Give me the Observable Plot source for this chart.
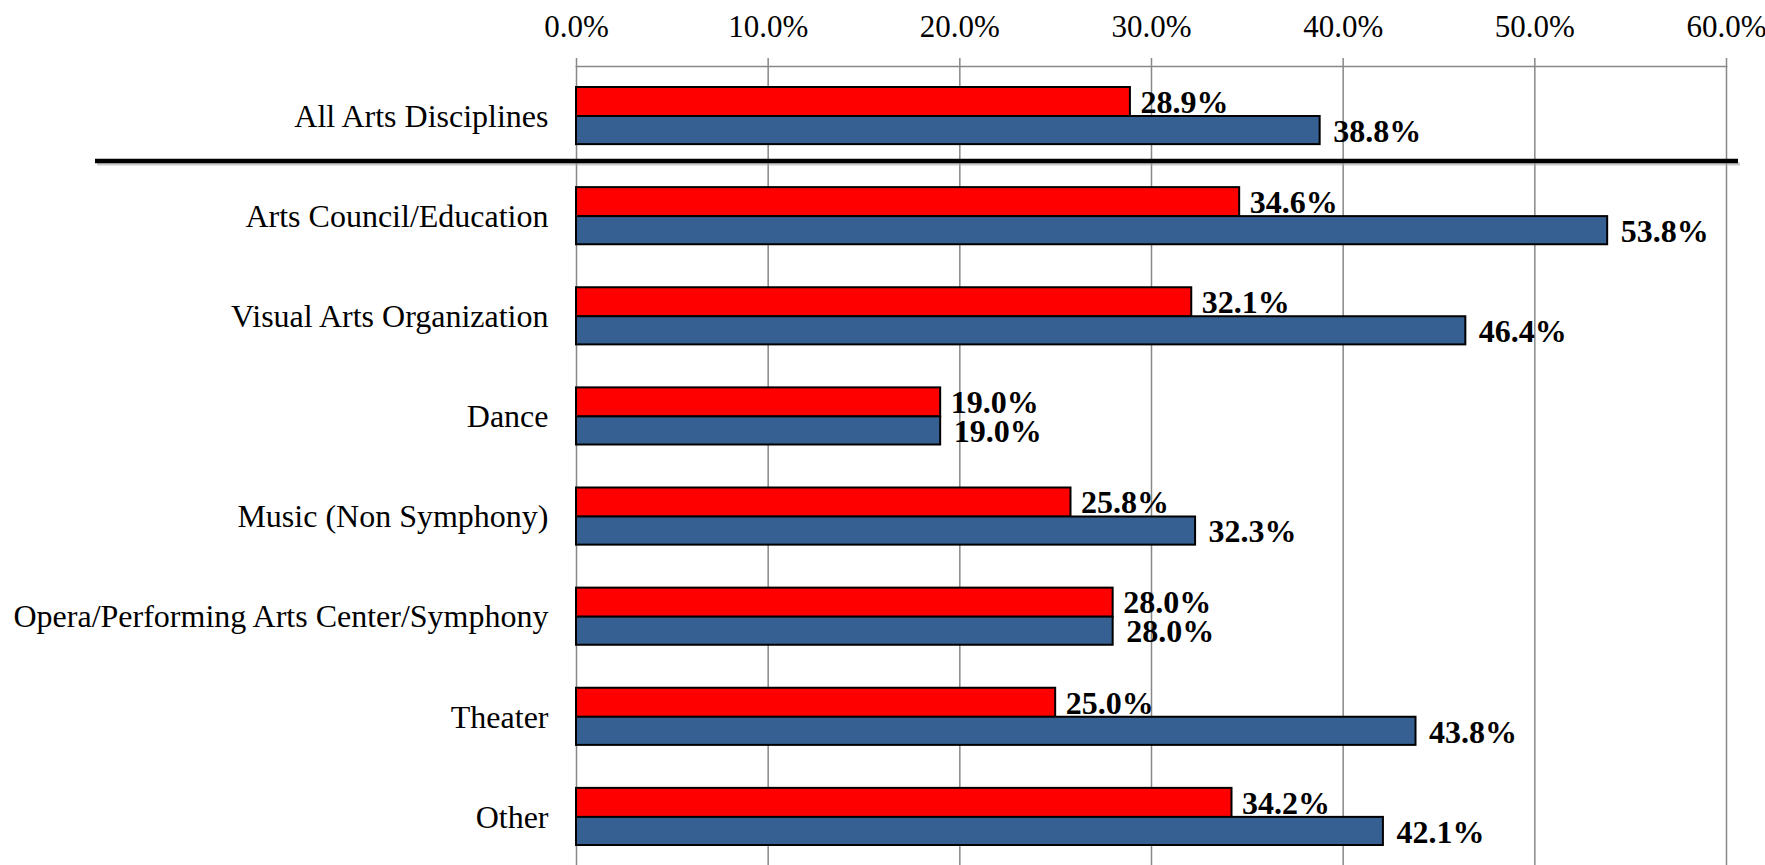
<!DOCTYPE html>
<html><head><meta charset="utf-8">
<script src="https://cdn.jsdelivr.net/npm/d3@7"></script>
<script src="https://cdn.jsdelivr.net/npm/@observablehq/plot@0.6"></script>
<style>
html,body{margin:0;padding:0;background:#fff;overflow:hidden;}
</style>
</head><body><div id="chart"></div>
<script>
const categories = ["All Arts Disciplines", "Arts Council/Education", "Visual Arts Organization", "Dance", "Music (Non Symphony)", "Opera/Performing Arts Center/Symphony", "Theater", "Other"];
const redValues = [28.9, 34.6, 32.1, 19.0, 25.8, 28.0, 25.0, 34.2];
const blueValues = [38.8, 53.8, 46.4, 19.0, 32.3, 28.0, 43.8, 42.1];
const xTicks = [0, 10, 20, 30, 40, 50, 60];
const separatorAfter = "All Arts Disciplines";

const redRows = categories.map((c, i) => ({category: c, value: redValues[i]}));
const blueRows = categories.map((c, i) => ({category: c, value: blueValues[i]}));
const fmt = v => v.toFixed(1) + "%";

function separator(index, scales, values, dims) {
  const n = categories.length;
  const step = (dims.height - dims.marginTop - dims.marginBottom) / n;
  const yStart = scales.y(separatorAfter);
  const y = yStart + step * 0.95;
  const x1 = dims.marginLeft - 481;
  const x2 = dims.width - 27;
  const ns = "http://www.w3.org/2000/svg";
  const g = document.createElementNS(ns, "g");
  const sh = document.createElementNS(ns, "line");
  sh.setAttribute("x1", x1 + 2); sh.setAttribute("x2", x2 + 2);
  sh.setAttribute("y1", y + 3); sh.setAttribute("y2", y + 3);
  sh.setAttribute("stroke", "#aaa"); sh.setAttribute("stroke-width", 3); sh.setAttribute("stroke-opacity", 0.6);
  const ln = document.createElementNS(ns, "line");
  ln.setAttribute("x1", x1); ln.setAttribute("x2", x2);
  ln.setAttribute("y1", y); ln.setAttribute("y2", y);
  ln.setAttribute("stroke", "#000"); ln.setAttribute("stroke-width", 4.5);
  g.appendChild(sh); g.appendChild(ln);
  return g;
}

const chart = Plot.plot({
  width: 1765,
  height: 865,
  marginLeft: 576,
  marginRight: 39,
  marginTop: 66,
  marginBottom: -2,
  style: {fontFamily: "'Liberation Serif','Times New Roman',serif", background: "#fff", color: "#000", overflow: "visible"},
  x: {domain: [0, 60], axis: null, label: null},
  y: {domain: categories, padding: 0, round: false, axis: null, label: null},
  marks: [
    Plot.gridX(xTicks, {stroke: "#888", strokeOpacity: 1, strokeWidth: 1.5}),
    Plot.frame({anchor: "top", stroke: "#888", strokeWidth: 1.5}),
    Plot.axisX({anchor: "top", label: null, ticks: xTicks, tickFormat: fmt, tickSize: 9, tickPadding: 21, stroke: "#888", strokeWidth: 1.5, fontSize: 31, fill: "#000"}),
    Plot.axisY({label: null, tickSize: 0, tickPadding: 28, fontSize: 32, fill: "#000"}),
    Plot.barX(redRows, {x: "value", y: "category", fill: "#ff0000", stroke: "#000", strokeWidth: 2, insetTop: 21, insetBottom: 50}),
    Plot.barX(blueRows, {x: "value", y: "category", fill: "#376092", stroke: "#000", strokeWidth: 2, insetTop: 50, insetBottom: 22}),
    Plot.text(redRows, {x: "value", y: "category", text: d => fmt(d.value), dx: 10, dy: -14, textAnchor: "start", fontWeight: "bold", fontSize: 32, fill: "#000"}),
    Plot.text(blueRows, {x: "value", y: "category", text: d => fmt(d.value), dx: 13, dy: 15, textAnchor: "start", fontWeight: "bold", fontSize: 32, fill: "#000"}),
    separator
  ]
});
document.getElementById("chart").appendChild(chart);
</script>
</body></html>
